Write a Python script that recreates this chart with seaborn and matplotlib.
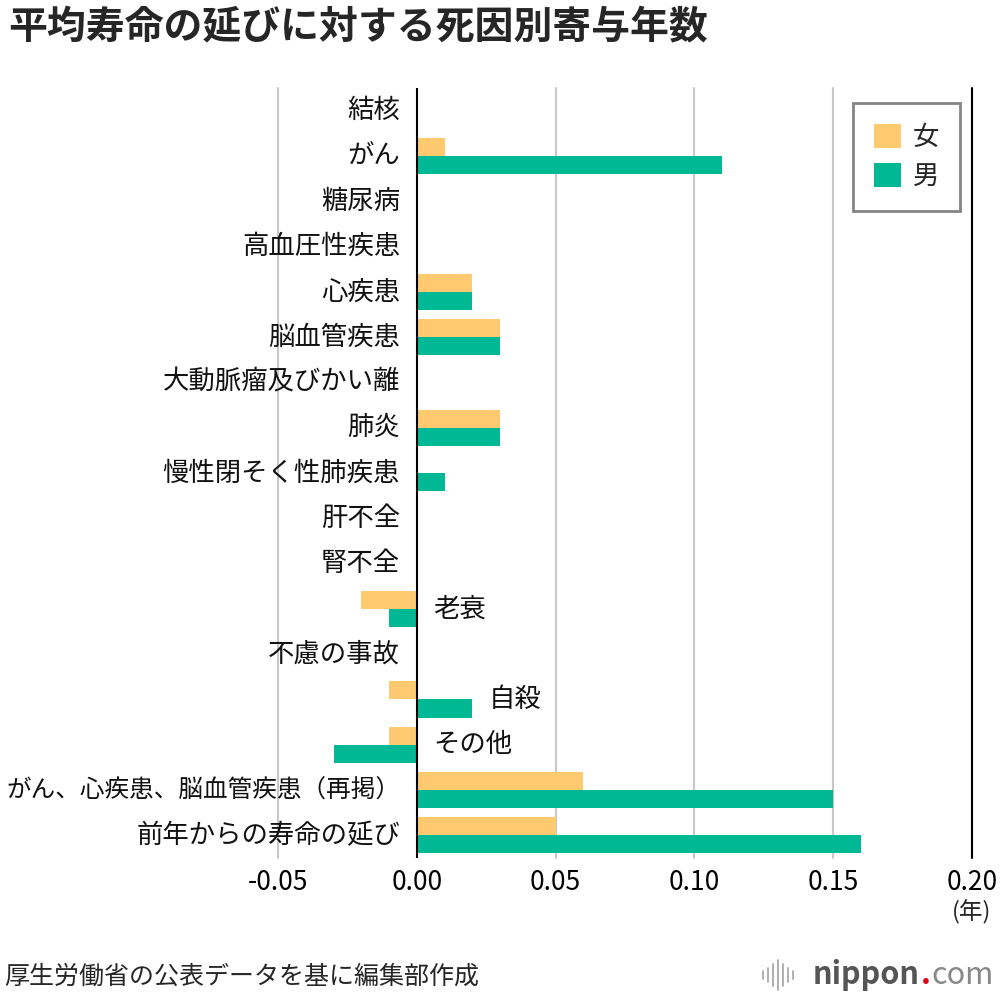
import matplotlib
matplotlib.use("Agg")
import matplotlib.pyplot as plt
import seaborn as sns
import pandas as pd
from matplotlib.patches import Patch

categories = ["結核", "がん", "糖尿病", "高血圧性疾患", "心疾患", "脳血管疾患",
              "大動脈瘤及びかい離", "肺炎", "慢性閉そく性肺疾患", "肝不全", "腎不全",
              "老衰", "不慮の事故", "自殺", "その他",
              "がん、心疾患、脳血管疾患（再掲）", "前年からの寿命の延び"]
female = [0.00, 0.01, 0.00, 0.00, 0.02, 0.03, 0.00, 0.03, 0.00, 0.00, 0.00,
          -0.02, 0.00, -0.01, -0.01, 0.06, 0.05]
male = [0.00, 0.11, 0.00, 0.00, 0.02, 0.03, 0.00, 0.03, 0.01, 0.00, 0.00,
        -0.01, 0.00, 0.02, -0.03, 0.15, 0.16]
series_names = ["女", "男"]
xticks = [-0.05, 0.00, 0.05, 0.10, 0.15, 0.20]
xtick_labels = ["-0.05", "0.00", "0.05", "0.10", "0.15", "0.20"]

sns.set_theme(style="white")
plt.rcParams['font.family'] = ['Noto Sans CJK JP', 'DejaVu Sans']

colors = {"女": "#FEC96F", "男": "#00B894"}

df = pd.DataFrame({
    "cat": categories * 2,
    "sex": [series_names[0]] * len(categories) + [series_names[1]] * len(categories),
    "val": female + male,
})

fig = plt.figure(figsize=(10, 10), dpi=100)
ax = fig.add_axes([0.278, 0.142, 0.694, 0.770])

sns.barplot(data=df, y="cat", x="val", hue="sex", order=categories,
            hue_order=series_names, palette=colors, orient="h",
            width=0.8, ax=ax, legend=False, saturation=1, linewidth=0)

ax.set_xlim(-0.05, 0.20)
ax.set_ylim(len(categories) - 0.5, -0.5)
for s in ax.spines.values():
    s.set_visible(False)
for xv in [-0.05, 0.05, 0.10, 0.15]:
    ax.axvline(xv, color="#c8c8c8", lw=1.5, zorder=0, clip_on=False)
ax.axvline(0.0, color="black", lw=1.5, zorder=3)
ax.axvline(0.20, color="black", lw=1.5, zorder=3, clip_on=False)

ax.set_xticks(xticks)
ax.set_xticklabels(xtick_labels, fontsize=19)
ax.tick_params(axis="x", length=0, pad=8, colors="black")
ax.set_yticks([])
ax.set_xlabel("")
ax.set_ylabel("")
ax.text(0.20, len(categories) - 0.5 + 1.2, "(年)", ha="center", va="center",
        fontsize=17, transform=ax.transData, clip_on=False)

fig.canvas.draw()
r = fig.canvas.get_renderer()

# category labels
for i, c in enumerate(categories):
    if min(female[i], male[i]) < 0:
        x = max(0.0, female[i], male[i]) + 0.006
        ax.text(x, i, c, ha="left", va="center", fontsize=19, color="#111111")
    else:
        t = ax.text(-0.006, i, c, ha="right", va="center", fontsize=19,
                    color="#111111", clip_on=False)
        w = t.get_window_extent(r).width
        if w > 393:
            t.set_fontsize(19 * 393 / w)

handles = [Patch(facecolor=colors[n], edgecolor="none", label=n) for n in series_names]
leg = fig.legend(handles=handles, loc="upper left", bbox_to_anchor=(0.853, 0.897),
                 fontsize=19, frameon=True, fancybox=False, handlelength=1.0,
                 handleheight=1.0, handletextpad=0.45, borderpad=0.8,
                 labelspacing=0.45, borderaxespad=0)
leg.get_frame().set_edgecolor("#666666")
leg.get_frame().set_linewidth(2)

fig.text(0.008, 0.972, "平均寿命の延びに対する死因別寄与年数", fontsize=28,
         fontweight="bold", ha="left", va="center")
fig.text(0.004, 0.023, "厚生労働省の公表データを基に編集部作成", fontsize=18,
         ha="left", va="center")

# logo
W = fig.bbox.width
parts = [("nippon", "#555555", "bold"), (".", "#e60012", "bold"), ("com", "#888888", "normal")]
texts = []
x = 0.0
for s, col, fw in parts:
    t = fig.text(x, 0.025, s, fontsize=22, color=col, ha="left", va="center",
                 fontweight=fw)
    e = t.get_window_extent(r)
    texts.append(t)
    x = e.x1 / W + 0.001
shift = 0.995 - x
for t in texts:
    px, py = t.get_position()
    t.set_position((px + shift, py))
x0 = texts[0].get_position()[0] - 0.05
for k, h in enumerate([0.008, 0.014, 0.022, 0.03, 0.022, 0.014, 0.008]):
    fig.add_artist(plt.Line2D([x0 + k * 0.005] * 2, [0.025 - h / 2, 0.025 + h / 2],
                              color="#aaaaaa", lw=1.3))

fig.savefig("out.png", dpi=100, facecolor="white")
